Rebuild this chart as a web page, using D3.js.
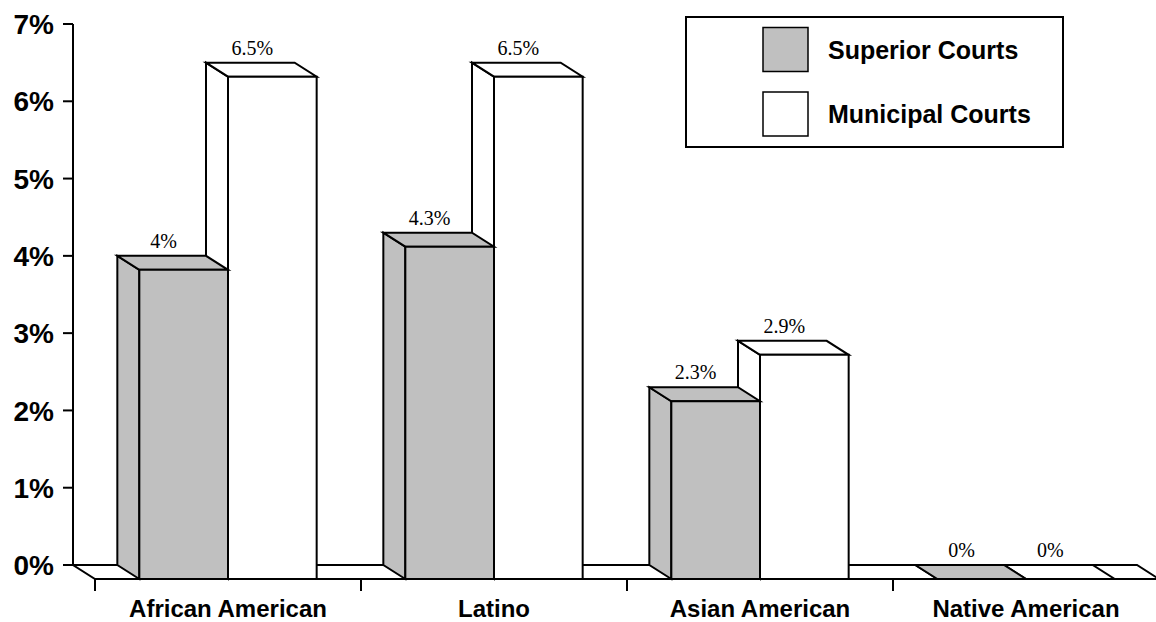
<!DOCTYPE html>
<html>
<head>
<meta charset="utf-8">
<script src="https://cdn.jsdelivr.net/npm/d3@7/dist/d3.min.js"></script>
<style>
  html, body { margin: 0; padding: 0; background: #fff; }
  svg { display: block; }
</style>
</head>
<body>
<svg id="chart" width="1156" height="622"></svg>
<script>
// Share of judges by ethnicity, Superior vs Municipal courts
const categories = ["African American", "Latino", "Asian American", "Native American"];
const seriesNames = ["Superior Courts", "Municipal Courts"];
const superiorCourts = [4, 4.3, 2.3, 0];
const municipalCourts = [6.5, 6.5, 2.9, 0];
const yTicks = [0, 1, 2, 3, 4, 5, 6, 7];
const yTickLabels = ["0%", "1%", "2%", "3%", "4%", "5%", "6%", "7%"];

const colors = { "Superior Courts": "#c0c0c0", "Municipal Courts": "#ffffff" };

const svg = d3.select("#chart");

// 3D depth offset (back plane is up-left of the front plane)
const DX = 22, DY = 14;

// y scale is defined on the back plane
const y = d3.scaleLinear().domain([0, 7]).range([565, 24]);
// category scale is defined on the front plane
const x = d3.scaleBand().domain(categories).range([95, 1159]).paddingInner(0).paddingOuter(0);
const xSub = d3.scaleBand().domain(seriesNames).range([0, x.bandwidth()]).paddingInner(0).paddingOuter(0.5);

const axisX = x.range()[0] - DX;
const floorBack = y(0);
const floorFront = y(0) + DY;

// Floor
svg.append("path")
  .attr("d", `M${axisX},${floorBack} L${x.range()[1] - DX},${floorBack} L${x.range()[1]},${floorFront} L${x.range()[0]},${floorFront} Z`)
  .attr("fill", "#fff")
  .attr("stroke", "#000")
  .attr("stroke-width", 2)
  .attr("stroke-linejoin", "miter");

// Category ticks on the front edge of the floor
svg.append("g")
  .selectAll("line")
  .data(categories.concat([null]))
  .join("line")
  .attr("x1", (d, i) => x.range()[0] + i * x.step())
  .attr("x2", (d, i) => x.range()[0] + i * x.step())
  .attr("y1", floorFront)
  .attr("y2", floorFront + 12)
  .attr("stroke", "#000")
  .attr("stroke-width", 2);

// Category labels
svg.append("g")
  .selectAll("text")
  .data(categories)
  .join("text")
  .attr("x", d => x(d) + x.bandwidth() / 2)
  .attr("y", 617)
  .attr("text-anchor", "middle")
  .attr("font-family", "'Liberation Sans', Arial, sans-serif")
  .attr("font-weight", "bold")
  .attr("font-size", 24)
  .text(d => d);

// Value axis
const yAxis = svg.append("g");
yAxis.append("line")
  .attr("x1", axisX).attr("x2", axisX)
  .attr("y1", y(7)).attr("y2", y(0))
  .attr("stroke", "#000").attr("stroke-width", 2);
yAxis.selectAll("line.tick")
  .data(yTicks)
  .join("line")
  .attr("class", "tick")
  .attr("x1", axisX - 10).attr("x2", axisX)
  .attr("y1", d => y(d)).attr("y2", d => y(d))
  .attr("stroke", "#000").attr("stroke-width", 2);
yAxis.selectAll("text")
  .data(yTicks)
  .join("text")
  .attr("x", 54)
  .attr("y", d => y(d))
  .attr("dy", "0.36em")
  .attr("text-anchor", "end")
  .attr("font-family", "'Liberation Sans', Arial, sans-serif")
  .attr("font-weight", "bold")
  .attr("font-size", 28)
  .text((d, i) => yTickLabels[i]);

// Bars as 3D boxes: municipal drawn first so the superior box overlaps its left side
const bars = [];
categories.forEach((c, i) => {
  bars.push({ cat: c, series: "Municipal Courts", value: municipalCourts[i] });
  bars.push({ cat: c, series: "Superior Courts", value: superiorCourts[i] });
});

const barG = svg.append("g");
bars.forEach(b => {
  const x0 = x(b.cat) + xSub(b.series);
  const x1 = x0 + xSub.bandwidth();
  const yt = y(b.value) + DY;   // front top
  const yb = floorFront;         // front bottom
  const fill = colors[b.series];
  const g = barG.append("g")
    .attr("fill", fill)
    .attr("stroke", "#000")
    .attr("stroke-width", 2)
    .attr("stroke-linejoin", "miter");
  // left side face
  g.append("path")
    .attr("d", `M${x0 - DX},${yt - DY} L${x0},${yt} L${x0},${yb} L${x0 - DX},${yb - DY} Z`);
  // top face
  g.append("path")
    .attr("d", `M${x0 - DX},${yt - DY} L${x1 - DX},${yt - DY} L${x1},${yt} L${x0},${yt} Z`);
  // front face
  g.append("path")
    .attr("d", `M${x0},${yt} L${x1},${yt} L${x1},${yb} L${x0},${yb} Z`);
});

// Value labels above each box, centred on the back face
svg.append("g")
  .selectAll("text")
  .data(bars)
  .join("text")
  .attr("x", d => x(d.cat) + xSub(d.series) + xSub.bandwidth() / 2 - DX + 2)
  .attr("y", d => y(d.value) - 8)
  .attr("text-anchor", "middle")
  .attr("font-family", "'Liberation Serif', 'Times New Roman', serif")
  .attr("font-size", 20)
  .text(d => `${d.value}%`);

// Legend
const legend = svg.append("g");
legend.append("rect")
  .attr("x", 686).attr("y", 17)
  .attr("width", 377).attr("height", 130)
  .attr("fill", "#fff")
  .attr("stroke", "#000")
  .attr("stroke-width", 2);
const legendItems = legend.selectAll("g.item")
  .data(seriesNames)
  .join("g")
  .attr("class", "item")
  .attr("transform", (d, i) => `translate(763,${27.5 + i * 64.5})`);
legendItems.append("rect")
  .attr("width", 45).attr("height", 44)
  .attr("fill", d => colors[d])
  .attr("stroke", "#000")
  .attr("stroke-width", 1.5);
legendItems.append("text")
  .attr("x", 65)
  .attr("y", 22)
  .attr("dy", "0.36em")
  .attr("font-family", "'Liberation Sans', Arial, sans-serif")
  .attr("font-weight", "bold")
  .attr("font-size", 25)
  .text(d => d);
</script>
</body>
</html>
